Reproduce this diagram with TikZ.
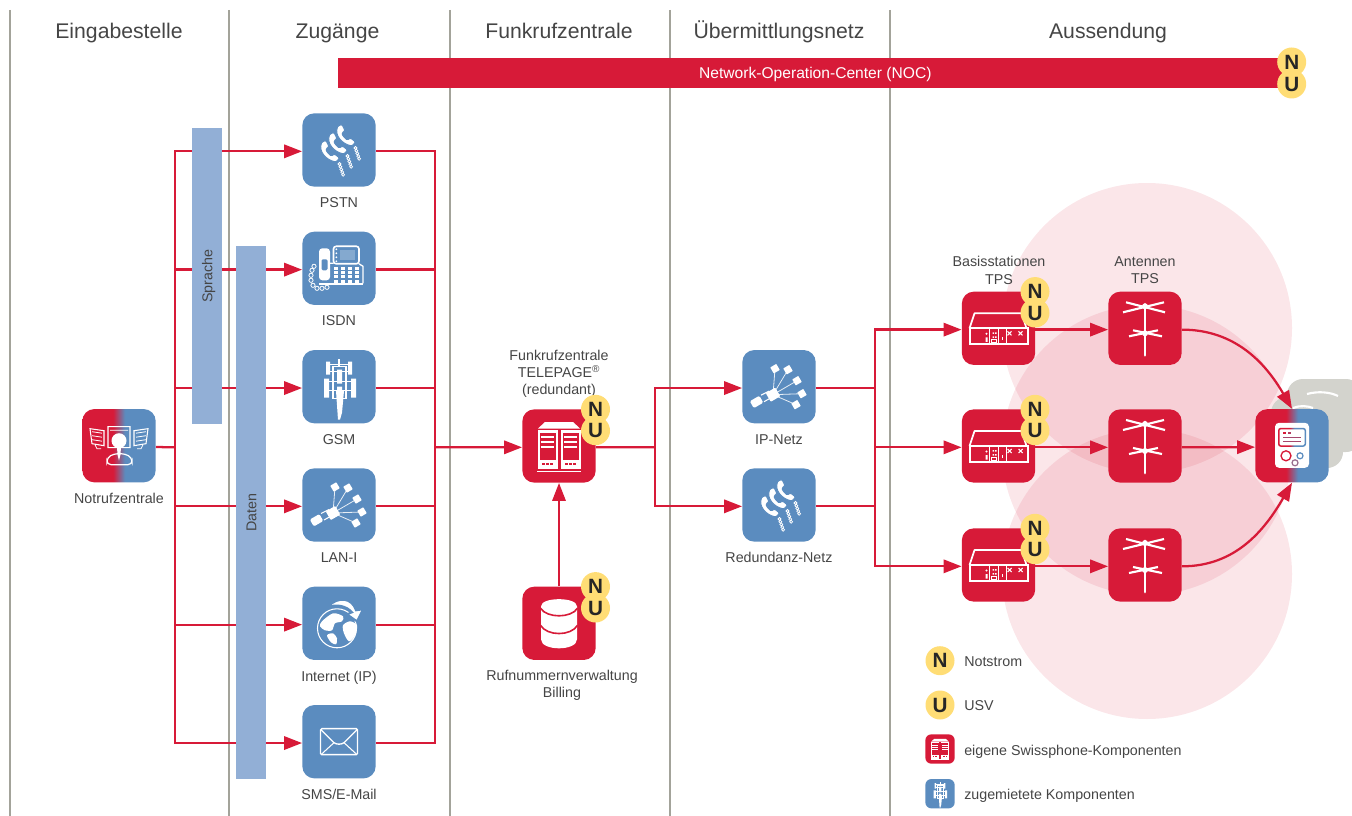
\documentclass[tikz,border=0pt]{standalone}
\usepackage{fontspec}
\setmainfont{Liberation Sans}
\usetikzlibrary{arrows.meta, positioning, shapes.geometric}
\definecolor{swred}{HTML}{D71A38}
\definecolor{swblue}{HTML}{5B8CBF}
\definecolor{swbar}{HTML}{92AFD6}
\definecolor{swyellow}{HTML}{FFDD75}
\definecolor{swtext}{HTML}{454545}
\definecolor{swline}{HTML}{A3A39A}
\definecolor{swgrey}{HTML}{D3D3CD}
\definecolor{swpurple}{HTML}{9A6F8F}
\pgfdeclarehorizontalshading{redblue}{100bp}{color(0bp)=(swred);color(46bp)=(swred);color(54bp)=(swblue);color(100bp)=(swblue)}
\pgfdeclarelayer{back}
\pgfdeclarelayer{wires}
\pgfsetlayers{back,wires,main}
\tikzset{
  redbox/.style={fill=swred, rounded corners=9pt, minimum size=55pt, inner sep=0pt},
  bluebox/.style={fill=swblue, rounded corners=9pt, minimum size=55pt, inner sep=0pt},
  mixbox/.style={shading=redblue, rounded corners=9pt, minimum size=55pt, inner sep=0pt},
  tinybox/.style={rounded corners=4.5pt, minimum size=22pt, inner sep=0pt},
  label/.style={font=\fontsize{10.7}{12.9}\selectfont, text=swtext, align=center, inner sep=0pt},
  legendtext/.style={label, anchor=base west},
  header/.style={font=\fontsize{15.9}{18}\selectfont, text=swtext, inner sep=0pt, anchor=base},
  barbox/.style={fill=swbar, rotate=90, inner sep=0pt, minimum height=22.5pt, text height=10pt, text depth=2pt, font=\fontsize{10.7}{12.9}\selectfont, text=swtext},
  badge/.style={circle, fill=swyellow, minimum size=21.75pt, inner sep=0pt, font=\fontsize{15.5}{16}\selectfont\bfseries, text=black!85},
  wire/.style={draw=swred, line width=1.7pt},
  pfeil/.style={wire, -{Triangle[length=13.5pt,width=10pt]}},
  gridline/.style={draw=swline, line width=1.5pt},
  % icons, drawn in pixels round the box centre
  pics/handset/.style={code={
    \path[fill=white,draw=swblue,line width=.7pt,rounded corners=.8pt] (-1,-1) .. controls (-5,8) and (3,17) .. (13,19) -- (16.5,15) -- (11.5,11) -- (8.5,13) .. controls (6,11.5) and (3.5,8.5) .. (3,6) -- (6,3.5) -- (3,-2.5) -- cycle;
    \foreach \k in {0,...,4} \draw[white,line width=.55pt] (16.5+.9*\k,21+2.7*\k) circle (1.5);
  }},
  pics/phones/.style={code={
    \pic at (0,-23) {handset};
    \pic at (-8,-15) {handset};
    \pic at (-16,-7) {handset};
  }},
  pics/deskphone/.style={code={
    \fill[white,rounded corners=2.5pt] (-20,-20) rectangle (-9,12);
    \fill[swblue,rounded corners=1pt] (-17.5,-9) rectangle (-11.5,2);
    \draw[white,line width=1.2pt,rounded corners=2pt] (-5.5,-22) rectangle (20,-4.5);
    \fill[white!25!swblue] (1,-18) rectangle (15.5,-8);
    \foreach \k in {-19,-15,-11,-7} \fill[white] (-2.6,\k) circle (1);
    \draw[white,line width=1pt] (-9,-5) -- (-5.5,-5) (20,-4.5) -- (24,-2) -- (24,15);
    \foreach \a in {-3,4,11,18} \foreach \b in {0,4.3,8.6,12.9} \fill[white] (\a-2.2,\b-1.4) rectangle (\a+2.2,\b+1.4);
    \draw[white,line width=1.6pt] (-20,16) -- (24,16);
    \foreach \k/\u/\v in {0/-25/-2,1/-27/2,2/-28/7,3/-28/12,4/-26/17,5/-22/20,6/-17/20,7/-12/19} \draw[white,line width=.6pt] (\u,\v) circle (2.1);
  }},
  pics/towerico/.style={code={
    \begin{scope}[scale=#1,line width=#1*.9pt]
      \fill[white] (-3,4) -- (5,4) -- (3,26) -- (1,33) -- (-1,33) -- cycle;
      \fill[white] (-13,-25) rectangle (-9,-12) (9,-25) rectangle (13,-12);
      \fill[white] (-15,-8) rectangle (-10,11) (12,-8) rectangle (17,11);
      \fill[white] (-1,-28) rectangle (1,-20);
      \draw[white] (-9,-22) -- (9,-22) (-9,-15) -- (9,-15) (-10,-5) -- (12,-5) (-10,4) -- (12,4) (-6,-20) rectangle (7,12);
      \fill[white] (-2,-17) rectangle (3,-3) (-2,0) rectangle (3,10);
    \end{scope}
  }},
  pics/towerico/.default=1,
  pics/starico/.style={code={
    \draw[white!85!swblue,line width=.6pt] (-6,8) -- (-4,-18) (-6,8) -- (9,-17) (-6,8) -- (18,-6) (-6,8) -- (23,7) (-6,8) -- (17,18);
    \foreach \a/\b in {-4/-18,9/-17,18/-6,23/7,17/18} \fill[white,rotate around={30:(\a,\b)},rounded corners=.4pt] (\a-3.5,\b-3.5) rectangle (\a+3.5,\b+3.5);
    \fill[white,rotate around={30:(-6,8)},rounded corners=.6pt] (-11.5,3) rectangle (-.5,13);
    \fill[white,rotate around={30:(-22,15)},rounded corners=1pt] (-28,11) rectangle (-17,19);
    \draw[white,line width=.8pt] (-18,8.5) -- (-10,4.5) (-15,15) -- (-7,10.5);
  }},
  pics/globeico/.style={code={
    \draw[white,line width=.8pt] (-2,5) circle (19.5);
    \fill[white] plot[smooth cycle] coordinates {(-17,-2) (-6,-10) (4,-7) (3,-2) (-4,0) (-7,7) (-14,7) (-19,3)};
    \fill[white] plot[smooth cycle] coordinates {(-12,12) (-6,10) (-2,15) (-3,21) (-8,19)};
    \fill[white] plot[smooth cycle] coordinates {(4,2) (11,-2) (18,2) (16,12) (10,18) (5,10)};
    \draw[swblue,line width=1.5pt,fill=white] (-12,-16) .. controls (0,-28) and (13,-25) .. (17,-13) -- (24,-14) -- (18,-2) -- (8,-9) -- (13,-11) .. controls (8,-17) and (-2,-20) .. (-12,-16) -- cycle;
  }},
  pics/envelopeico/.style={code={
    \draw[white,line width=1.1pt,rounded corners=1pt] (-18.5,-13) rectangle (18.5,13);
    \draw[white,line width=1pt] (-18,-12) -- (-5,1) .. controls (-2,3) and (2,3) .. (5,1) -- (18,-12);
    \draw[white,line width=.8pt] (-17,12) -- (-5,1) (17,12) -- (5,1);
  }},
  pics/serverico/.style={code={
    \begin{scope}[scale=#1,line width=#1*.9pt]
      \fill[white] (-14,-24) -- (14,-24) -- (21,-17.5) -- (-21,-17.5) -- cycle;
      \foreach \u in {-11.5,11.5}{
        \fill[white] (\u-10,-16) rectangle (\u+10,23);
        \fill[swred] (\u-8,-13.5) rectangle (\u+8,14);
        \foreach \v in {-9,-4,1} \draw[white] (\u-6.5,\v) -- (\u+6.5,\v);
        \foreach \w in {-5.5,-1.5,2.5} \fill[swred] (\u+\w,16.5) rectangle (\u+\w+2.5,19);
      }
      \draw[white] (-22,25.5) -- (22,25.5);
    \end{scope}
  }},
  pics/serverico/.default=1,
  pics/dbico/.style={code={
    \fill[white] (-18,-17) .. controls (-18,-26.5) and (18,-26.5) .. (18,-17) -- (18,16) .. controls (18,28) and (-18,28) .. (-18,16) -- cycle;
    \draw[swred,line width=1.2pt] (-18.5,-15) .. controls (-12,-5) and (12,-5) .. (18.5,-15);
    \draw[swred,line width=1.2pt] (-18.5,2) .. controls (-12,13) and (12,13) .. (18.5,2);
  }},
  pics/stationico/.style={code={
    \draw[white,line width=1.3pt,line join=round] (-29,0) -- (-24,-15) -- (23,-15) -- (28,0);
    \draw[white,line width=1.5pt] (-29,0) rectangle (29,16);
    \foreach \u in {-9,0,8} \draw[white,line width=.8pt] (\u,0) -- (\u,17);
    \foreach \u in {11,22} \draw[white,line width=.8pt] (\u-2,3) -- (\u+2,7) (\u-2,7) -- (\u+2,3);
    \fill[white] (-13,9) rectangle (-11,13.5) (-12,5.5) circle (1.1);
    \foreach \u in {-6,-3.5} \fill[white] (\u,4) rectangle (\u+1.5,5.5) (\u,8) rectangle (\u+1.5,9.5);
    \draw[white,line width=.4pt] (-7,11) rectangle (-2,14);
    \fill[white] (3.5,9) rectangle (4.5,12);
  }},
  pics/antennaico/.style={code={
    \draw[white,line width=2.1pt,line cap=round] (0,-24) -- (0,27);
    \draw[white,line width=1.6pt] (-19,-26) -- (20,-16) (-22,-16) -- (19,-26) (-12,2) -- (17,8) (-16,8) -- (13,2);
    \fill[white] (0,-22) circle (3) (0,5) circle (3);
  }},
  pics/terminalico/.style={code={
    \fill[white,rounded corners=3pt] (-17,-23) rectangle (17,22);
    \shade[shading=redblue,rounded corners=2pt] (-14,-18) rectangle (14,1);
    \fill[white,rounded corners=1pt] (-12.5,-16.5) rectangle (12.5,-.5);
    \fill[swred] (-9,-14) rectangle (-6,-11.5);
    \fill[swred!70!swblue] (-4,-14) rectangle (-1,-11.5);
    \draw[swred!60!swblue,line width=.8pt] (-9,-8.5) -- (9,-8.5) (-9,-4) -- (9,-4);
    \draw[swred,line width=1pt] (-6,10) circle (5);
    \draw[swblue,line width=.9pt] (8,10) circle (3);
    \draw[swpurple,line width=.9pt] (3,17) circle (3);
  }},
  pics/personico/.style={code={
    \draw[white,line width=.8pt] (-29,-17) -- (-15,-15) -- (-15,0) -- (-27,-2) -- cycle (29,-17) -- (15,-15) -- (15,0) -- (27,-2) -- cycle (-11,-19) rectangle (11,2);
    \draw[white,line width=.6pt] (-27,-14) -- (-17,-12.5) (-27,-10) -- (-17,-8.5) (-27,-6) -- (-17,-4.5) (27,-14) -- (17,-12.5) (27,-10) -- (17,-8.5) (27,-6) -- (17,-4.5) (-9,-15.5) -- (9,-15.5);
    \draw[white,line width=.6pt] (-24,-1) -- (-22,3) -- (-18,3) (24,-1) -- (22,3) -- (18,3);
    \fill[white] (0,-5) circle (7.5);
    \draw[white,line width=.9pt,rounded corners=3pt] (-12,19) -- (-12,12) -- (-5,8) -- (6,8) -- (13,12) -- (13,19) -- cycle;
    \fill[white] (-2,1) -- (2,1) -- (1.5,9) -- (0,15) -- (-1.5,9) -- cycle;
  }},
}

\begin{document}
\begin{tikzpicture}[x=0.75pt,y=-0.75pt]
    \useasboundingbox (0,0) rectangle (1352,816);

    % Reichweite der Antennen
    \begin{pgfonlayer}{back}
        \fill[swred,opacity=0.11] (1147,328) circle (145);
        \fill[swred,opacity=0.11] (1147,450) circle (145);
        \fill[swred,opacity=0.11] (1147,574) circle (145);
        % Spalten
        \foreach \x in {10,229,450,670,890}
            \draw[gridline] (\x,10) -- (\x,816);
        % Pager hinter dem Endgeraet
        \fill[swgrey,rounded corners=12pt] (1287,379) rectangle (1362,452);
        \fill[swgrey,rounded corners=12pt] (1271,397) rectangle (1343,468);
        \draw[white,line width=1.6pt] (1307,394) .. controls (1318,391) and (1330,392) .. (1338,396);
        \draw[white,line width=1.6pt] (1293,408) .. controls (1300,405) and (1308,406) .. (1313,408);
    \end{pgfonlayer}

    % Spaltenkoepfe
    \foreach \k/\x/\txt in {eingabe/119/Eingabestelle,zugang/337.5/Zugänge,funkkopf/559/Funkrufzentrale,netz/779/Übermittlungsnetz,aussend/1108/Aussendung}
        \node[header] (\k) at (\x,39) {\txt};

    % NOC
    \node[fill=swred, minimum width=714pt, minimum height=22.5pt, inner sep=0pt, text height=9pt, text depth=1pt, font=\fontsize{11.7}{14}\selectfont, text=white] (noc) at (814,73) {\hspace*{2pt}Network-Operation-Center (NOC)};
    \node[badge] (nocN) at (1291.7,62) {N};
    \node[badge] (nocU) at (1291.7,84) {U};

    % Balken
    \node[barbox, minimum width=222pt] (sprache) at (207,276) {Sprache};
    \node[barbox, minimum width=399.75pt] (daten) at (251,512.5) {Daten};

    % Eingabestelle
    \node[mixbox] (notruf) at (119,445.7) {};
    \pic at (notruf.center) {personico};
    \node[label, anchor=base] (notrufl) at (119,503.3) {Notrufzentrale};

    % Zugaenge
    \foreach \k/\y/\ico/\txt in {pstn/150/phones/PSTN,isdn/268.3/deskphone/ISDN,gsm/386.7/towerico/GSM,lan/505/starico/LAN-I,inet/623.3/globeico/Internet (IP),sms/741.7/envelopeico/{SMS/E-Mail}}{
        \node[bluebox] (\k) at (339,\y) {};
        \pic at (\k.center) {\ico};
        \node[label, anchor=base] (\k l) at (339,\y+57.7) {\txt};
    }

    % Funkrufzentrale
    \node[redbox] (funk) at (559,446) {};
    \pic at (funk.center) {serverico};
    \node[label] (funkl) at (559,374) {Funkrufzentrale\\TELEPAGE\textsuperscript{®}\\(redundant)};
    \node[redbox] (db) at (559,623.3) {};
    \pic at (db.center) {dbico};
    \node[label] (dbl) at (562,685.5) {Rufnummernverwaltung\\Billing};

    % Uebermittlungsnetz
    \node[bluebox] (ip) at (779,386.7) {};
    \pic at (ip.center) {starico};
    \node[label, anchor=base] (ipl) at (779,444) {IP-Netz};
    \node[bluebox] (redund) at (779,505) {};
    \pic at (redund.center) {phones};
    \node[label, anchor=base] (redundl) at (779,562) {Redundanz-Netz};

    % Aussendung
    \foreach \i/\y in {1/328.3,2/446,3/565}{
        \node[redbox] (bs\i) at (998.5,\y) {};
        \pic at (bs\i.center) {stationico};
        \node[redbox] (ant\i) at (1145,\y) {};
        \pic at (ant\i.center) {antennaico};
    }
    \node[label] (bsl) at (999,270.5) {Basisstationen\\TPS};
    \node[label] (antl) at (1145,270.5) {Antennen\\TPS};
    \node[mixbox] (term) at (1292,445.8) {};
    \pic at (term.center) {terminalico};

    % Notstrom und USV
    \foreach \b in {funk,db,bs1,bs2,bs3}{
        \node[badge] (\b N) at ([shift={(36.5,-36.7)}]\b.center) {N};
        \node[badge] (\b U) at ([shift={(36.5,-15.3)}]\b.center) {U};
    }

    % Legende
    \node[badge] (legN) at (940,660.7) {N};
    \node[legendtext] (legNl) at (964,666) {Notstrom};
    \node[badge] (legU) at (940,705) {U};
    \node[legendtext] (legUl) at (964,710) {USV};
    \node[tinybox, fill=swred] (legR) at (940,749) {};
    \pic at (legR.center) {serverico=0.42};
    \node[legendtext] (legRl) at (964,755) {eigene Swissphone-Komponenten};
    \node[tinybox, fill=swblue] (legB) at (940,793.7) {};
    \pic at (legB.center) {towerico=0.42};
    \node[legendtext] (legBl) at (964,799.3) {zugemietete Komponenten};

    % Verbindungen
    \coordinate (busL) at (175,447.3);
    \coordinate (busR) at (435,447.3);
    \coordinate (busF) at (655,447.3);
    \coordinate (busB) at (875,447.3);
    \begin{pgfonlayer}{wires}
        \draw[wire] ([yshift=-1pt]notruf.east) -- (busL);
        \foreach \k in {pstn,isdn,gsm,lan,inet,sms}{
            \draw[pfeil] (busL) |- ([yshift=-1pt]\k.west);
            \draw[wire] ([yshift=-1pt]\k.east) -| (busR);
        }
        \draw[pfeil] (busR) -- ([yshift=-1pt]funk.west);
        \draw[pfeil] (db.north) -- (funk.south);
        \draw[wire] ([yshift=-1pt]funk.east) -- (busF);
        \draw[pfeil] (busF) |- ([yshift=-1pt]ip.west);
        \draw[pfeil] (busF) |- ([yshift=-1pt]redund.west);
        \draw[wire] ([yshift=-1pt]ip.east) -| (busB);
        \draw[wire] ([yshift=-1pt]redund.east) -| (busB);
        \foreach \i in {1,2,3}{
            \draw[pfeil] (busB) |- ([yshift=-1pt]bs\i.west);
            \draw[pfeil] ([yshift=-1pt]bs\i.east) -- ([yshift=-1pt]ant\i.west);
        }
        \draw[pfeil] ([yshift=-1pt]ant1.east) to[out=0,in=120] (term.north);
        \draw[pfeil] ([yshift=-1pt]ant2.east) -- ([yshift=-1pt]term.west);
        \draw[pfeil] ([yshift=-1pt]ant3.east) to[out=0,in=-120] (term.south);
    \end{pgfonlayer}
\end{tikzpicture}
\end{document}
